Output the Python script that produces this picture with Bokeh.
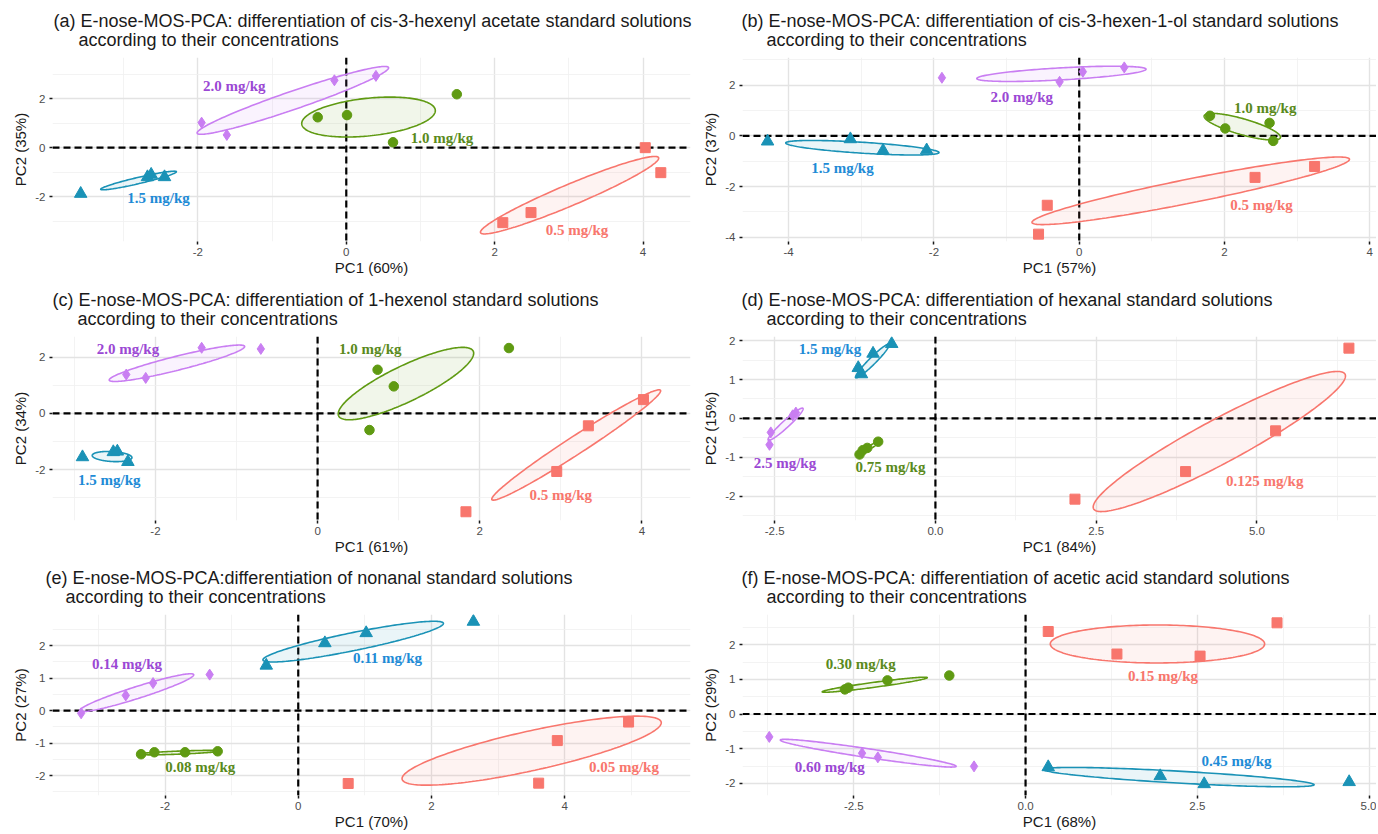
import numpy as np
from bokeh.plotting import figure
from bokeh.models import Range1d, FixedTicker, Span, Title, NumeralTickFormatter
from bokeh.layouts import column, row
from bokeh.core.properties import value
from bokeh.embed import file_html
from bokeh.resources import INLINE

# ---------------- data (groups in blocks of 4: square, circle, triangle, diamond) ----
# (a) cis-3-hexenyl acetate
a_x = [4.03, 4.24, 2.11, 2.49, -0.385, 0.01, 0.63, 1.49, -3.58, -2.68, -2.63, -2.45, -1.95, -1.61, -0.16, 0.40]
a_y = [0.00, -1.02, -3.06, -2.65, 1.24, 1.33, 0.22, 2.18, -1.88, -1.20, -1.10, -1.20, 1.02, 0.52, 2.75, 2.93]
a_ell_x1 = [1.81, -0.60, -3.31, -2.01]
a_ell_y1 = [-3.47, 0.965, -1.70, 0.59]
a_ell_x2 = [4.21, 1.20, -2.29, 0.57]
a_ell_y2 = [-0.41, 1.535, -0.98, 3.27]
a_ell_r = [0.11, 0.28, 0.08, 0.09]
a_lab_x = [3.11, 1.29, -2.53, -1.51]
a_lab_y = [-3.37, 0.41, -2.04, 2.50]
a_lab = ["0.5 mg/kg", "1.0 mg/kg", "1.5 mg/kg", "2.0 mg/kg"]

# (b) cis-3-hexen-1-ol
b_x = [3.24, 2.42, -0.44, -0.56, 1.80, 2.01, 2.62, 2.67, -4.29, -3.15, -2.70, -2.10, -1.89, -0.27, 0.05, 0.62]
b_y = [-1.21, -1.64, -2.74, -3.88, 0.79, 0.29, 0.51, -0.20, -0.22, -0.13, -0.59, -0.57, 2.29, 2.13, 2.53, 2.70]
b_ell_x1 = [-0.65, 1.72, -4.04, -1.41]
b_ell_y1 = [-3.42, 0.79, -0.28, 2.26]
b_ell_x2 = [3.72, 2.77, -1.93, 0.92]
b_ell_y2 = [-0.92, -0.07, -0.66, 2.63]
b_ell_r = [0.074, 0.20, 0.071, 0.071]
b_lab_x = [2.51, 2.56, -3.26, -0.79]
b_lab_y = [-2.72, 1.08, -1.28, 1.55]
b_lab = ["0.5 mg/kg", "1.0 mg/kg", "1.5 mg/kg", "2.0 mg/kg"]

# (c) 1-hexenol
c_x = [4.02, 3.34, 2.95, 1.83, 0.74, 0.94, 0.64, 2.36, -2.90, -2.52, -2.47, -2.34, -2.36, -2.12, -1.43, -0.70]
c_y = [0.49, -0.44, -2.06, -3.49, 1.55, 0.96, -0.59, 2.32, -1.55, -1.37, -1.35, -1.72, 1.38, 1.26, 2.33, 2.29]
c_ell_x1 = [2.15, 0.26, -2.78, -2.57]
c_ell_y1 = [-3.06, -0.09, -1.49, 1.18]
c_ell_x2 = [4.23, 1.92, -2.29, -0.90]
c_ell_y2 = [0.82, 2.21, -1.57, 2.38]
c_ell_r = [0.089, 0.24, 0.25, 0.10]
c_lab_x = [3.00, 0.65, -2.57, -2.34]
c_lab_y = [-2.91, 2.29, -2.35, 2.29]
c_lab = ["0.5 mg/kg", "1.0 mg/kg", "1.5 mg/kg", "2.0 mg/kg"]

# (d) hexanal
d_x = [6.43, 5.29, 3.89, 2.17, -0.89, -1.06, -1.13, -1.18, -0.68, -0.97, -1.20, -1.15, -2.56, -2.58, -2.22, -2.17]
d_y = [1.81, -0.32, -1.37, -2.08, -0.60, -0.76, -0.82, -0.93, 1.92, 1.67, 1.30, 1.14, -0.36, -0.68, 0.08, 0.15]
d_ell_x1 = [2.46, -1.20, -1.24, -2.60]
d_ell_y1 = [-2.33, -0.94, 1.05, -0.56]
d_ell_x2 = [6.37, -0.85, -0.72, -2.06]
d_ell_y2 = [1.14, -0.57, 1.91, 0.26]
d_ell_r = [0.154, 0.115, 0.146, 0.15]
d_lab_x = [5.12, -0.70, -1.64, -2.34]
d_lab_y = [-1.60, -1.26, 1.79, -1.14]
d_lab = ["0.125 mg/kg", "0.75 mg/kg", "1.5 mg/kg", "2.5 mg/kg"]

# (e) nonanal
e_x = [4.96, 3.89, 3.61, 0.75, -2.36, -2.16, -1.70, -1.21, -0.48, 0.40, 1.02, 2.63, -3.26, -2.59, -2.18, -1.33]
e_y = [-0.35, -0.92, -2.23, -2.24, -1.34, -1.28, -1.28, -1.25, 1.39, 2.08, 2.39, 2.74, -0.08, 0.47, 0.85, 1.11]
e_ell_x1 = [1.56, -2.41, -0.53, -3.28]
e_ell_y1 = [-2.11, -1.34, 1.56, 0.00]
e_ell_x2 = [5.45, -1.17, 2.18, -1.57]
e_ell_y2 = [-0.35, -1.24, 2.69, 1.11]
e_ell_r = [0.15, 0.037, 0.098, 0.10]
e_lab_x = [4.89, -1.47, 1.34, -2.57]
e_lab_y = [-1.74, -1.74, 1.61, 1.43]
e_lab = ["0.05 mg/kg", "0.08 mg/kg", "0.11 mg/kg", "0.14 mg/kg"]

# (f) acetic acid
f_x = [0.33, 1.33, 2.54, 3.66, -2.63, -2.58, -2.01, -1.11, 0.33, 1.96, 2.60, 4.71, -3.73, -2.38, -2.15, -0.75]
f_y = [2.38, 1.73, 1.67, 2.63, 0.71, 0.76, 0.97, 1.11, -1.53, -1.79, -2.02, -1.96, -0.66, -1.13, -1.25, -1.51]
f_ell_x1 = [0.36, -2.96, 0.26, -3.57]
f_ell_y1 = [2.02, 0.64, -1.60, -0.75]
f_ell_x2 = [3.48, -1.43, 4.20, -1.01]
f_ell_y2 = [2.02, 1.05, -2.04, -1.51]
f_ell_r = [0.178, 0.047, 0.044, 0.05]
f_lab_x = [2.00, -2.40, 3.07, -2.85]
f_lab_y = [1.10, 1.44, -1.35, -1.53]
f_lab = ["0.15 mg/kg", "0.30 mg/kg", "0.45 mg/kg", "0.60 mg/kg"]

SUB = "according to their concentrations"

# ---------------- style ----------------
COLORS = ["#F8766D", "#5F9A12", "#1A92B6", "#C97EF2"]
LAB_COLORS = ["#F8766D", "#5A8A1C", "#1E8BD6", "#9B48D4"]
MARKERS = ["square", "circle", "triangle", "diamond"]
SIZES = [10, 9.5, 12.5, 11]

LEFT_W, RIGHT_W = 692, 684
LEFT_BL, LEFT_BR = 52, 2
RIGHT_BL, RIGHT_BR = 50, 0
ROW_H = [279, 279, 274]
ROW_TOP = [57, 57, 56]
ROW_BOT = [38, 38, 36]


def build(t1, indent, off, xr, yr, xt, xtm, yt, ytm, xfmt, xlabel, ylabel,
          px, py, ex1, ey1, ex2, ey2, er, lx, ly, lt, left, ri):
    width = LEFT_W if left else RIGHT_W
    bl = LEFT_BL if left else RIGHT_BL
    br = LEFT_BR if left else RIGHT_BR
    height, top, bot = ROW_H[ri], ROW_TOP[ri], ROW_BOT[ri]
    fh = height - top - bot
    p = figure(width=width, height=height, x_range=Range1d(*xr), y_range=Range1d(*yr),
               output_backend="svg", toolbar_location=None, title=None,
               min_border_left=bl, min_border_right=br, min_border_top=top,
               min_border_bottom=bot)
    p.outline_line_color = None
    p.background_fill_color = "white"
    p.border_fill_color = "white"

    text = t1 + "\n" + "\u00a0" * indent + SUB
    p.add_layout(Title(text=text, align="left", offset=off, standoff=15, text_font="Liberation Sans",
                       text_font_size="18px", text_font_style="normal", text_color="#1A1A1A",
                       text_line_height=0.95), "above")

    p.xaxis.ticker = FixedTicker(ticks=xt, minor_ticks=xtm)
    p.yaxis.ticker = FixedTicker(ticks=yt, minor_ticks=ytm)
    p.xaxis.formatter = NumeralTickFormatter(format=xfmt)
    p.yaxis.formatter = NumeralTickFormatter(format="0")
    for ax in (p.xaxis, p.yaxis):
        ax.axis_line_color = None
        ax.major_tick_line_color = "#1A1A1A"
        ax.major_tick_line_width = 1.5
        ax.major_tick_out = 3
        ax.major_tick_in = 0
        ax.minor_tick_line_color = None
        ax.major_label_text_font = "Liberation Sans"
        ax.major_label_text_font_size = "11.5px"
        ax.major_label_text_color = "#4D4D4D"
        ax.axis_label_text_font = "Liberation Sans"
        ax.axis_label_text_font_size = "15px"
        ax.axis_label_text_font_style = "normal"
        ax.axis_label_text_color = "#1A1A1A"
    p.xaxis.axis_label = xlabel
    p.xaxis.major_label_standoff = 2
    p.xaxis.axis_label_standoff = 0
    p.yaxis.axis_label = ylabel
    p.yaxis.major_label_standoff = 3
    p.yaxis.axis_label_standoff = 3

    for g in (p.xgrid, p.ygrid):
        g.grid_line_color = "#E3E3E3"
        g.grid_line_width = 1.4
        g.minor_grid_line_color = "#F0F0F0"
        g.minor_grid_line_width = 0.8

    for dim in ("width", "height"):
        p.add_layout(Span(location=0, dimension=dim, line_color="black", line_dash="7 4",
                          line_width=2.2, level="underlay"))

    sx = (width - bl - br) / (xr[1] - xr[0])
    sy = fh / (yr[1] - yr[0])
    t = np.linspace(0, 2 * np.pi, 200)
    for k in range(4):
        cx = (ex1[k] + ex2[k]) / 2
        cy = (ey1[k] + ey2[k]) / 2
        ux = (ex2[k] - ex1[k]) / 2
        uy = (ey2[k] - ey1[k]) / 2
        vx = -er[k] * uy * sy / sx
        vy = er[k] * ux * sx / sy
        xs = cx + ux * np.cos(t) + vx * np.sin(t)
        ys = cy + uy * np.cos(t) + vy * np.sin(t)
        p.patch(xs, ys, fill_color=COLORS[k], fill_alpha=0.09, line_color=COLORS[k], line_width=1.6)

    for k in range(4):
        p.scatter(px[4 * k:4 * k + 4], py[4 * k:4 * k + 4], marker=MARKERS[k], size=SIZES[k],
                  color=COLORS[k])

    p.text(x=lx, y=ly, text=lt, text_color=LAB_COLORS, text_font=value("Liberation Serif"),
           text_font_style="bold", text_font_size="15px", text_align="center",
           text_baseline="middle")
    return p


pa = build("(a) E-nose-MOS-PCA: differentiation of cis-3-hexenyl acetate standard solutions",
           5, 1, (-3.96, 4.64), (-3.83, 3.68),
           [-2, 0, 2, 4], [-3, -1, 1, 3], [-2, 0, 2], [-3, -1, 1, 3], "0",
           "PC1 (60%)", "PC2 (35%)", a_x, a_y, a_ell_x1, a_ell_y1, a_ell_x2, a_ell_y2, a_ell_r,
           a_lab_x, a_lab_y, a_lab, True, 0)
pb = build("(b) E-nose-MOS-PCA: differentiation of cis-3-hexen-1-ol standard solutions",
           5, -1, (-4.635, 4.092), (-4.17, 3.09),
           [-4, -2, 0, 2, 4], [-3, -1, 1, 3], [-4, -2, 0, 2], [-3, -1, 1, 3], "0",
           "PC1 (57%)", "PC2 (37%)", b_x, b_y, b_ell_x1, b_ell_y1, b_ell_x2, b_ell_y2, b_ell_r,
           b_lab_x, b_lab_y, b_lab, False, 0)
pc = build("(c) E-nose-MOS-PCA: differentiation of 1-hexenol standard solutions",
           5, 0, (-3.27, 4.60), (-3.80, 2.73),
           [-2, 0, 2, 4], [-3, -1, 1, 3], [-2, 0, 2], [-3, -1, 1], "0",
           "PC1 (61%)", "PC2 (34%)", c_x, c_y, c_ell_x1, c_ell_y1, c_ell_x2, c_ell_y2, c_ell_r,
           c_lab_x, c_lab_y, c_lab, True, 1)
pd_ = build("(d) E-nose-MOS-PCA: differentiation of hexanal standard solutions",
            5, -1, (-3.00, 6.859), (-2.63, 2.11),
            [-2.5, 0, 2.5, 5], [-1.25, 1.25, 3.75, 6.25], [-2, -1, 0, 1, 2],
            [-2.5, -1.5, -0.5, 0.5, 1.5], "0.0",
            "PC1 (84%)", "PC2 (15%)", d_x, d_y, d_ell_x1, d_ell_y1, d_ell_x2, d_ell_y2, d_ell_r,
            d_lab_x, d_lab_y, d_lab, False, 1)
pe = build("(e) E-nose-MOS-PCA:differentiation of nonanal standard solutions",
           4, -7, (-3.69, 5.89), (-2.61, 2.96),
           [-2, 0, 2, 4], [-3, -1, 1, 3, 5], [-2, -1, 0, 1, 2],
           [-2.5, -1.5, -0.5, 0.5, 1.5, 2.5], "0",
           "PC1 (70%)", "PC2 (27%)", e_x, e_y, e_ell_x1, e_ell_y1, e_ell_x2, e_ell_y2, e_ell_r,
           e_lab_x, e_lab_y, e_lab, True, 2)
pf = build("(f) E-nose-MOS-PCA: differentiation of acetic acid standard solutions",
           5, -1, (-4.12, 5.108), (-2.35, 2.87),
           [-2.5, 0, 2.5, 5], [-3.75, -1.25, 1.25, 3.75], [-2, -1, 0, 1, 2],
           [-1.5, -0.5, 0.5, 1.5, 2.5], "0.0",
           "PC1 (68%)", "PC2 (29%)", f_x, f_y, f_ell_x1, f_ell_y1, f_ell_x2, f_ell_y2, f_ell_r,
           f_lab_x, f_lab_y, f_lab, False, 2)

layout = column(row(pa, pb, spacing=0), row(pc, pd_, spacing=0), row(pe, pf, spacing=0), spacing=0)
open("out.html", "w").write(file_html(layout, INLINE))
